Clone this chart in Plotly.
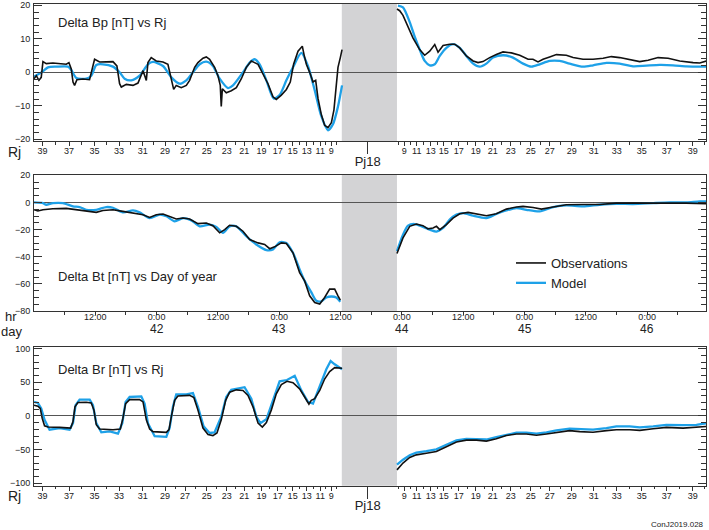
import plotly.graph_objects as go

# ---------------- data (day of year 2019, values in nT) ----------------
gap_start, gap_end = 43.51, 43.96      # data gap around perijove
pj_day = 43.721                        # Pj18

# Delta Bp
bp_obs_in_day = [41.000, 41.019, 41.040, 41.059, 41.073, 41.100, 41.154, 41.209, 41.263, 41.285, 41.304, 41.318, 41.331, 41.350, 41.399, 41.453, 41.475, 41.494, 41.535, 41.589, 41.644, 41.676, 41.698, 41.712, 41.753, 41.807, 41.848, 41.889, 41.916, 41.929, 41.956, 41.997, 42.052, 42.092, 42.120, 42.139, 42.160, 42.201, 42.242, 42.269, 42.310, 42.337, 42.378, 42.405, 42.432, 42.473, 42.500, 42.519, 42.527, 42.536, 42.568, 42.609, 42.650, 42.691, 42.731, 42.772, 42.799, 42.827, 42.867, 42.908, 42.949, 42.976, 43.017, 43.058, 43.090, 43.117, 43.153, 43.188, 43.202, 43.221, 43.248, 43.275, 43.297, 43.316, 43.343, 43.370, 43.397, 43.425, 43.446, 43.465, 43.479, 43.498, 43.512]
bp_obs_in_val = [-1.9, -1.0, -2.4, -1.5, 3.2, 2.6, 2.8, 2.6, 2.4, 2.9, 1.0, -2.9, -3.9, -2.2, -2.0, -2.2, 1.5, 3.9, 3.1, 3.2, 3.2, 1.9, -3.4, -4.4, -3.6, -3.9, -3.2, 0.5, -2.4, 2.9, 4.4, 3.4, 3.1, 2.4, -1.9, -5.1, -3.9, -4.6, -3.9, -2.4, 1.5, 2.9, 4.2, 4.6, 3.9, 1.5, -1.0, -3.9, -10.2, -4.9, -6.1, -5.5, -4.6, -1.9, 1.5, 3.4, 2.9, 2.4, -0.5, -3.4, -7.3, -8.1, -6.8, -5.1, -2.9, 2.4, 6.3, 7.8, 5.3, 2.4, 0.0, -2.9, -2.4, -7.8, -12.6, -15.8, -16.5, -15.0, -11.2, -3.4, 1.5, 4.4, 6.8]
bp_obs_out_day = [43.960, 43.982, 44.009, 44.050, 44.091, 44.145, 44.186, 44.227, 44.268, 44.295, 44.336, 44.390, 44.431, 44.472, 44.526, 44.581, 44.621, 44.661, 44.716, 44.770, 44.825, 44.893, 44.961, 45.029, 45.069, 45.110, 45.151, 45.205, 45.260, 45.341, 45.396, 45.477, 45.559, 45.641, 45.708, 45.776, 45.858, 45.939, 46.008, 46.089, 46.171, 46.266, 46.375, 46.429, 46.484]
bp_obs_out_val = [18.9, 18.4, 17.0, 13.6, 10.2, 6.8, 5.1, 6.3, 8.3, 6.0, 8.0, 8.4, 8.4, 7.3, 4.9, 3.4, 2.9, 3.2, 4.4, 5.3, 6.1, 5.8, 5.1, 3.9, 3.9, 3.1, 3.9, 4.6, 5.3, 5.1, 4.4, 3.9, 3.9, 4.2, 4.7, 4.4, 3.7, 3.2, 3.6, 4.4, 4.2, 3.4, 2.9, 2.8, 3.4]
bp_mod_in_day = [41.000, 41.073, 41.114, 41.182, 41.277, 41.304, 41.345, 41.426, 41.467, 41.508, 41.562, 41.644, 41.698, 41.739, 41.793, 41.861, 41.929, 41.970, 42.052, 42.120, 42.188, 42.242, 42.296, 42.351, 42.405, 42.459, 42.514, 42.582, 42.623, 42.704, 42.759, 42.799, 42.840, 42.895, 42.954, 43.003, 43.058, 43.112, 43.180, 43.234, 43.289, 43.343, 43.397, 43.438, 43.479, 43.512]
bp_mod_in_val = [-1.3, 0.3, 1.5, 1.7, 1.7, 0.7, -1.7, -1.9, -1.0, 2.2, 2.4, 1.7, 0.0, -1.9, -2.4, -1.0, 2.4, 3.1, 1.9, -1.5, -3.4, -2.4, 0.0, 2.4, 3.2, 1.9, -1.9, -4.7, -3.9, 0.0, 2.9, 3.9, 2.4, -2.4, -7.8, -6.8, -2.4, 1.5, 5.8, 1.9, -5.3, -13.1, -17.3, -15.5, -10.2, -3.9]
bp_mod_out_day = [43.968, 44.009, 44.064, 44.104, 44.145, 44.186, 44.227, 44.268, 44.309, 44.363, 44.417, 44.472, 44.526, 44.581, 44.635, 44.689, 44.743, 44.825, 44.906, 44.988, 45.056, 45.124, 45.205, 45.287, 45.368, 45.477, 45.559, 45.668, 45.776, 45.885, 45.994, 46.103, 46.211, 46.321, 46.429, 46.484]
bp_mod_out_val = [19.9, 19.4, 15.0, 10.7, 6.8, 3.4, 2.1, 2.4, 4.9, 7.3, 8.4, 7.3, 4.9, 2.6, 1.7, 2.6, 4.4, 5.1, 4.4, 2.6, 1.7, 2.4, 3.4, 3.4, 2.6, 1.7, 2.1, 2.8, 2.6, 1.8, 2.0, 2.2, 2.1, 1.8, 1.7, 1.7]

# Delta Bt
bt_obs_in_day = [41.000, 41.032, 41.073, 41.154, 41.263, 41.345, 41.426, 41.508, 41.562, 41.644, 41.725, 41.807, 41.889, 41.943, 41.997, 42.052, 42.106, 42.160, 42.215, 42.269, 42.337, 42.405, 42.459, 42.514, 42.555, 42.595, 42.650, 42.704, 42.759, 42.827, 42.881, 42.922, 42.962, 43.017, 43.058, 43.112, 43.166, 43.207, 43.248, 43.289, 43.330, 43.370, 43.411, 43.452, 43.479, 43.498]
bt_obs_in_val = [-5.4, -6.3, -5.4, -4.6, -4.4, -5.4, -6.1, -7.3, -5.9, -5.4, -6.6, -7.8, -9.0, -11.0, -9.0, -8.5, -10.2, -12.2, -11.5, -12.2, -15.6, -15.1, -17.1, -22.4, -20.0, -16.8, -17.6, -21.2, -27.3, -29.8, -31.0, -34.1, -32.7, -29.8, -30.2, -37.1, -51.7, -57.8, -68.8, -73.7, -74.9, -70.0, -63.9, -63.9, -68.8, -72.0]
bt_obs_out_day = [43.960, 44.009, 44.064, 44.118, 44.172, 44.213, 44.254, 44.282, 44.309, 44.363, 44.417, 44.472, 44.540, 44.608, 44.689, 44.770, 44.852, 44.934, 44.988, 45.070, 45.138, 45.233, 45.341, 45.477, 45.613, 45.749, 45.885, 46.049, 46.184, 46.320, 46.484]
bt_obs_out_val = [-37.6, -26.1, -17.6, -15.9, -17.1, -19.5, -18.8, -17.6, -20.0, -16.3, -11.5, -8.3, -7.3, -8.5, -9.8, -8.3, -4.9, -3.4, -2.9, -3.7, -4.9, -3.4, -1.7, -1.5, -1.5, -0.5, -0.5, 0.0, 0.0, -0.5, -1.0]
bt_mod_in_day = [41.000, 41.073, 41.100, 41.154, 41.236, 41.318, 41.372, 41.426, 41.508, 41.589, 41.644, 41.725, 41.807, 41.861, 41.943, 42.024, 42.079, 42.147, 42.215, 42.283, 42.351, 42.432, 42.487, 42.541, 42.595, 42.650, 42.731, 42.813, 42.895, 42.949, 43.003, 43.058, 43.112, 43.166, 43.207, 43.262, 43.302, 43.343, 43.384, 43.425, 43.465, 43.498]
bt_mod_in_val = [0.0, -0.5, -1.7, -0.5, -0.5, -2.9, -3.4, -5.4, -5.4, -3.4, -3.9, -7.3, -5.9, -7.3, -11.5, -9.0, -10.2, -13.9, -11.5, -13.2, -17.6, -16.3, -18.0, -22.4, -17.6, -17.6, -24.9, -31.0, -35.1, -34.6, -29.3, -29.8, -37.1, -49.3, -57.8, -66.3, -72.4, -72.9, -70.0, -69.3, -70.0, -73.2]
bt_mod_out_day = [43.960, 44.009, 44.050, 44.104, 44.172, 44.227, 44.282, 44.336, 44.390, 44.445, 44.499, 44.581, 44.689, 44.770, 44.852, 44.934, 45.015, 45.124, 45.233, 45.341, 45.477, 45.613, 45.749, 45.885, 46.049, 46.184, 46.320, 46.429, 46.484]
bt_mod_out_val = [-35.9, -23.7, -17.1, -15.9, -18.0, -20.0, -21.5, -18.8, -12.7, -9.0, -7.8, -9.8, -11.5, -8.5, -5.9, -4.1, -5.4, -6.6, -3.4, -2.2, -2.9, -1.7, -1.0, -1.2, -0.5, 0.0, 0.0, 0.7, 0.7]

# Delta Br
br_obs_in_day = [41.000, 41.032, 41.051, 41.067, 41.086, 41.114, 41.209, 41.277, 41.299, 41.318, 41.334, 41.358, 41.426, 41.467, 41.489, 41.508, 41.535, 41.644, 41.704, 41.725, 41.747, 41.780, 41.861, 41.889, 41.916, 41.943, 41.970, 42.079, 42.101, 42.120, 42.147, 42.174, 42.269, 42.304, 42.337, 42.378, 42.419, 42.459, 42.492, 42.527, 42.563, 42.595, 42.650, 42.704, 42.745, 42.786, 42.827, 42.862, 42.895, 42.935, 42.976, 43.017, 43.063, 43.112, 43.166, 43.207, 43.242, 43.261, 43.289, 43.330, 43.370, 43.411, 43.452, 43.512]
br_obs_in_val = [16.0, 14.6, 11.2, -3.4, -14.6, -16.5, -17.0, -17.0, -18.0, -8.3, 13.6, 19.9, 20.4, 19.4, 8.7, -13.1, -19.4, -20.4, -19.4, -3.4, 18.4, 24.3, 24.3, 20.9, -5.8, -19.4, -23.3, -24.3, -20.4, -1.0, 23.3, 29.6, 30.6, 27.2, 8.7, -18.0, -27.7, -29.1, -25.2, -5.8, 23.3, 35.4, 38.8, 37.9, 30.6, 13.6, -10.7, -16.5, -9.7, 8.7, 33.0, 46.6, 51.5, 49.5, 40.3, 28.2, 17.5, 23.3, 25.7, 37.9, 54.9, 66.0, 71.8, 70.9]
br_obs_out_day = [43.960, 44.009, 44.064, 44.118, 44.200, 44.281, 44.363, 44.445, 44.526, 44.608, 44.689, 44.770, 44.852, 44.934, 45.015, 45.097, 45.179, 45.260, 45.368, 45.450, 45.559, 45.668, 45.749, 45.858, 45.940, 46.049, 46.157, 46.293, 46.402, 46.484]
br_obs_out_val = [-80.1, -69.9, -61.7, -57.8, -55.3, -52.9, -45.6, -38.8, -35.9, -35.9, -37.4, -34.0, -29.1, -26.7, -26.7, -28.6, -26.7, -24.3, -21.8, -23.3, -24.3, -21.8, -20.4, -20.4, -21.4, -18.9, -17.0, -18.0, -16.5, -15.5]
br_mod_in_day = [41.000, 41.032, 41.059, 41.086, 41.127, 41.209, 41.290, 41.318, 41.339, 41.372, 41.454, 41.481, 41.508, 41.549, 41.617, 41.685, 41.720, 41.747, 41.780, 41.875, 41.902, 41.929, 41.984, 42.079, 42.106, 42.133, 42.160, 42.242, 42.296, 42.337, 42.383, 42.432, 42.473, 42.527, 42.568, 42.609, 42.717, 42.772, 42.813, 42.846, 42.895, 42.949, 43.003, 43.063, 43.126, 43.180, 43.234, 43.275, 43.330, 43.384, 43.419, 43.452, 43.512]
br_mod_in_val = [20.9, 19.4, 11.2, -5.8, -20.4, -18.0, -20.4, -10.7, 16.0, 24.3, 24.3, 16.0, -10.7, -24.3, -22.8, -26.2, -10.7, 20.9, 28.2, 29.1, 18.4, -10.7, -30.1, -31.1, -18.0, 13.6, 32.0, 32.0, 34.0, 13.6, -15.5, -25.2, -24.3, -1.0, 28.2, 38.8, 42.7, 25.7, -1.0, -10.7, -4.9, 23.3, 51.5, 53.4, 59.7, 37.9, 20.9, 18.4, 42.7, 69.4, 81.6, 76.7, 69.4]
br_mod_out_day = [43.960, 44.009, 44.064, 44.118, 44.200, 44.281, 44.363, 44.445, 44.526, 44.608, 44.689, 44.770, 44.852, 44.934, 45.015, 45.097, 45.179, 45.260, 45.368, 45.450, 45.559, 45.668, 45.749, 45.858, 45.940, 46.049, 46.157, 46.293, 46.402, 46.484]
br_mod_out_val = [-72.3, -65.0, -58.3, -54.4, -52.4, -49.5, -42.7, -36.4, -34.0, -34.0, -35.0, -31.6, -27.7, -24.8, -24.8, -26.2, -24.3, -21.4, -18.9, -19.4, -20.4, -18.0, -15.5, -15.5, -17.0, -15.5, -13.1, -13.6, -13.1, -10.7]

# Radial distance (Rj) tick marks along the trajectory
rj_labels = [39, 37, 35, 33, 31, 29, 27, 25, 23, 21, 19, 17, 15, 13, 11, 9,
             9, 11, 13, 15, 17, 19, 21, 23, 25, 27, 29, 31, 33, 35, 37, 39]
rj_days = [41.070, 41.286, 41.494, 41.694, 41.886, 42.069, 42.232, 42.408, 42.571, 42.714, 42.856, 42.987, 43.109, 43.224, 43.334, 43.423,
           44.019, 44.121, 44.235, 44.341, 44.463, 44.602, 44.741, 44.887, 45.051, 45.206, 45.385, 45.564, 45.752, 45.956, 46.160, 46.372]
rj_minor_days = [41.178, 41.390, 41.594, 41.790, 41.978, 42.150, 42.320, 42.490, 42.643, 42.785, 42.921, 43.048, 43.166, 43.279, 43.378, 43.466,
                 43.975, 44.070, 44.178, 44.288, 44.402, 44.532, 44.671, 44.814, 44.969, 45.128, 45.295, 45.474, 45.658, 45.854, 46.058, 46.266, 46.470]

# Time ticks
time_days = [41.5, 42.0, 42.5, 43.0, 43.5, 44.0, 44.5, 45.0, 45.5, 46.0]
time_labels = ["12:00", "0:00", "12:00", "0:00", "12:00", "0:00", "12:00", "0:00", "12:00", "0:00"]
time_minor_days = [41.25, 41.75, 42.25, 42.75, 43.25, 43.75, 44.25, 44.75, 45.25, 45.75, 46.25]
day_numbers = [42, 43, 44, 45, 46]

# ---------------- figure ----------------
W, H = 709, 530
X_RANGE = [41.0, 46.48]
OBS_C, MOD_C = "#111111", "#1ea1e8"
AX_C = "#333333"
FONT = "Liberation Sans"

def py(p):  # pixel row -> paper fraction
    return 1 - p / H

def px(p):
    return p / W

xdom = [px(34), px(706)]
ydoms = [[py(141), py(4)], [py(311), py(174.5)], [py(485.7), py(347.3)]]


def join(a, b):
    return list(a) + [None] + list(b)


fig = go.Figure()
series = [
    (bp_obs_in_day, bp_obs_in_val, bp_obs_out_day, bp_obs_out_val,
     bp_mod_in_day, bp_mod_in_val, bp_mod_out_day, bp_mod_out_val, "spline"),
    (bt_obs_in_day, bt_obs_in_val, bt_obs_out_day, bt_obs_out_val,
     bt_mod_in_day, bt_mod_in_val, bt_mod_out_day, bt_mod_out_val, "spline"),
    (br_obs_in_day, br_obs_in_val, br_obs_out_day, br_obs_out_val,
     br_mod_in_day, br_mod_in_val, br_mod_out_day, br_mod_out_val, "linear"),
]
for i, s in enumerate(series):
    xa = "x" if i == 0 else f"x{i+1}"
    ya = "y" if i == 0 else f"y{i+1}"
    (oid, oiv, ood, oov, mid, miv, mod_, mov, mshape) = s
    fig.add_trace(go.Scatter(x=join(mid, mod_), y=join(miv, mov), mode="lines",
                             line=dict(color=MOD_C, width=2.3, shape=mshape, smoothing=0.7),
                             name="Model", legendrank=2, showlegend=(i == 1),
                             xaxis=xa, yaxis=ya, connectgaps=False, hoverinfo="skip"))
    fig.add_trace(go.Scatter(x=join(oid, ood), y=join(oiv, oov), mode="lines",
                             line=dict(color=OBS_C, width=1.6),
                             name="Observations", legendrank=1, showlegend=(i == 1),
                             xaxis=xa, yaxis=ya, connectgaps=False, hoverinfo="skip"))

# dummy traces for the Pj18 overlay axes
for xa, ya in (("x4", "y"), ("x5", "y3")):
    fig.add_trace(go.Scatter(x=[pj_day], y=[0], xaxis=xa, yaxis=ya, mode="markers",
                             marker=dict(opacity=0), showlegend=False, hoverinfo="skip"))

common_x = dict(domain=xdom, range=X_RANGE, showgrid=False, zeroline=False, automargin=False,
                showline=True, mirror=True, linecolor=AX_C, linewidth=1,
                ticks="outside", tickcolor=AX_C, tickwidth=1,
                tickfont=dict(size=9, color="#222"), fixedrange=True)
rj_x = dict(common_x, tickmode="array", tickvals=rj_days, ticktext=[str(v) for v in rj_labels],
            ticklen=4, ticklabelstandoff=-3,
            minor=dict(tickmode="array", tickvals=rj_minor_days, ticks="outside",
                       ticklen=2.5, tickcolor=AX_C, showgrid=False))
time_x = dict(common_x, tickmode="array", tickvals=time_days, ticktext=time_labels,
              ticklen=3, ticklabelstandoff=-6,
              minor=dict(tickmode="array", tickvals=time_minor_days, ticks="outside",
                         ticklen=3, tickcolor=AX_C, showgrid=False))

def yax(dom, rng, major, minor):
    return dict(domain=dom, range=rng, showgrid=False, zeroline=True, automargin=False,
                zerolinecolor="#555555", zerolinewidth=1,
                showline=True, mirror="ticks", linecolor=AX_C, linewidth=1,
                ticks="inside", ticklen=8, tickcolor=AX_C, dtick=major, tick0=0,
                tickfont=dict(size=9, color="#222"), ticklabelstandoff=1,
                minor=dict(dtick=minor, ticks="inside", ticklen=5, tickcolor=AX_C, showgrid=False),
                fixedrange=True)

pj_axis = dict(range=X_RANGE, tickmode="array", tickvals=[pj_day], ticktext=["Pj18"],
               ticks="outside", ticklen=12, tickcolor=AX_C, tickwidth=1, automargin=False,
               showline=False, showgrid=False, zeroline=False, ticklabelstandoff=-4,
               tickfont=dict(size=13, color="#222"), side="bottom", fixedrange=True)

fig.update_layout(
    template="none",
    width=W, height=H, margin=dict(l=0, r=0, t=0, b=0, pad=0, autoexpand=False),
    paper_bgcolor="white", plot_bgcolor="white",
    font=dict(family=FONT, color="#222"),
    xaxis=dict(rj_x, anchor="y"),
    xaxis2=dict(time_x, anchor="y2"),
    xaxis3=dict(rj_x, anchor="y3"),
    xaxis4=dict(pj_axis, overlaying="x", anchor="y"),
    xaxis5=dict(pj_axis, overlaying="x3", anchor="y3"),
    yaxis=yax(ydoms[0], [-20.5, 20.4], 10, 2),
    yaxis2=yax(ydoms[1], [-80, 20.6], 20, 5),
    yaxis3=yax(ydoms[2], [-103.6, 102], 50, 10),
    showlegend=True,
    legend=dict(x=px(511), y=py(248), xanchor="left", yanchor="top",
                bgcolor="rgba(0,0,0,0)", font=dict(size=13, color="#222"),
                tracegroupgap=0, itemwidth=30),
)

# grey data-gap bands
for xa, ya in (("x", "y"), ("x2", "y2"), ("x3", "y3")):
    fig.add_shape(type="rect", xref=xa, yref=f"{ya} domain", x0=gap_start, x1=gap_end,
                  y0=0, y1=1, fillcolor="#d3d3d5", line=dict(width=0), layer="below")

ann = []
def text(t, x, y, size, xanchor="left", xref="paper"):
    ann.append(dict(text=t, x=x, y=y, xref=xref, yref="paper", xanchor=xanchor,
                    yanchor="middle", showarrow=False, font=dict(size=size, color="#222")))

text("Delta Bp [nT] vs Rj", px(56), py(23), 13)
text("Delta Bt [nT] vs Day of year", px(56), py(276), 13)
text("Delta Br [nT] vs Rj", px(56), py(369), 13)
text("Rj", px(14), py(152), 14, "center")
text("Rj", px(14), py(496), 14, "center")
text("hr", px(11), py(316.5), 13, "center")
text("day", px(11), py(331), 13, "center")
for d in day_numbers:
    text(str(d), d, py(329), 12, "center", xref="x2")
text("ConJ2019.028", px(706), py(524), 8, "right")
fig.update_layout(annotations=ann)

fig.write_html("out.html", config={"displayModeBar": False},
               post_script="document.body.style.margin='0';document.body.style.overflow='hidden';")
